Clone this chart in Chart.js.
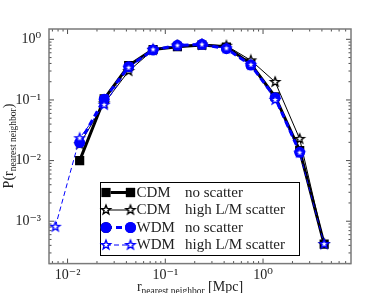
<!DOCTYPE html>
<html>
<head>
<meta charset="utf-8">
<script src="https://cdn.jsdelivr.net/npm/chart.js@4.4.1/dist/chart.umd.min.js"></script>
<style>
  html, body { margin: 0; padding: 0; background: #fff; }
</style>
</head>
<body>
<canvas id="c" width="390" height="293"></canvas>
<script>
// bin centres [Mpc]
const rBins = [0.0075, 0.0133, 0.0237, 0.0422, 0.075, 0.133, 0.237, 0.422, 0.75, 1.33, 2.37, 4.22];
// P(r_nearest neighbor)
const cdmNoScatter   = [null, 0.010, 0.104, 0.367, 0.68, 0.755, 0.805, 0.746, 0.392, 0.113, 0.0146, 0.00042];
const cdmHighScatter = [null, 0.0186, 0.088, 0.30, 0.667, 0.79, 0.82, 0.785, 0.45, 0.198, 0.0228, 0.00042];
const wdmNoScatter   = [null, 0.0198, 0.103, 0.354, 0.667, 0.795, 0.826, 0.70, 0.377, 0.109, 0.0137, null];
const wdmHighScatter = [0.00081, 0.0234, 0.083, 0.34, 0.68, 0.79, 0.82, 0.71, 0.38, 0.10, 0.0135, 0.00042];

const xRange = [0.00646, 7.94];
const yRange = [0.0002, 1.48];

const legendRows = [
  ["CDM", "no scatter"],
  ["CDM", "high L/M scatter"],
  ["WDM", "no scatter"],
  ["WDM", "high L/M scatter"]
];

const BLUE = "#0000ff";
const SERIF = "'Liberation Serif', 'DejaVu Serif', serif";

function toPoints(ys) {
  return rBins.map((x, i) => ({ x, y: ys[i] })).filter(p => p.y !== null);
}

// hollow 5-point star marker
function starMarker(color, r) {
  const size = Math.ceil(r * 2 + 4);
  const cv = document.createElement("canvas");
  cv.width = size; cv.height = size;
  const g = cv.getContext("2d");
  const c = size / 2;
  g.beginPath();
  for (let i = 0; i < 10; i++) {
    const rad = i % 2 === 0 ? r : r * 0.42;
    const a = -Math.PI / 2 + i * Math.PI / 5;
    const px = c + rad * Math.cos(a), py = c + rad * Math.sin(a);
    i === 0 ? g.moveTo(px, py) : g.lineTo(px, py);
  }
  g.closePath();
  g.fillStyle = "#fff";
  g.fill();
  g.lineWidth = 1.4;
  g.strokeStyle = color;
  g.stroke();
  return cv;
}
const blackStar = starMarker("#000", 4.8);
const blueStar = starMarker(BLUE, 4.8);

const sup = { "-": "\u207b", "0": "\u2070", "1": "\u00b9", "2": "\u00b2", "3": "\u00b3" };
function decadeLabel(value) {
  const l = Math.log10(value);
  const k = Math.round(l);
  if (Math.abs(l - k) > 1e-6) return "";
  return "10" + String(k).split("").map(ch => sup[ch]).join("");
}

const datasets = [
  {
    label: "CDM no scatter",
    data: toPoints(cdmNoScatter),
    borderColor: "#000", backgroundColor: "#000",
    borderWidth: 3, pointStyle: "rect", pointRadius: 6.5,
    pointBorderWidth: 0, order: 4
  },
  {
    label: "CDM high L/M scatter",
    data: toPoints(cdmHighScatter),
    borderColor: "#000", backgroundColor: "#000",
    borderWidth: 1, pointStyle: blackStar, order: 3
  },
  {
    label: "WDM no scatter",
    data: toPoints(wdmNoScatter),
    borderColor: BLUE, backgroundColor: BLUE,
    borderWidth: 3, borderDash: [6, 4], pointStyle: "circle", pointRadius: 5.5,
    pointBorderWidth: 0, order: 2
  },
  {
    label: "WDM high L/M scatter",
    data: toPoints(wdmHighScatter),
    borderColor: BLUE, backgroundColor: BLUE,
    borderWidth: 1, borderDash: [5, 3], pointStyle: blueStar, order: 1
  }
];

function drawMixed(ctx, parts, x, y, align) {
  // parts: [text, size, dy]
  let total = 0;
  parts.forEach(p => { ctx.font = p[1] + "px " + SERIF; total += ctx.measureText(p[0]).width; });
  let cx = align === "center" ? x - total / 2 : x;
  parts.forEach(p => {
    ctx.font = p[1] + "px " + SERIF;
    ctx.textAlign = "left";
    ctx.fillText(p[0], cx, y + p[2]);
    cx += ctx.measureText(p[0]).width;
  });
}

const decor = {
  id: "decor",
  afterDraw(chart) {
    const ctx = chart.ctx;
    const a = chart.chartArea;
    const xs = chart.scales.x, ys = chart.scales.y;
    ctx.save();

    // inward ticks on all four sides
    ctx.strokeStyle = "#222";
    ctx.lineWidth = 0.8;
    const drawTicks = (scale, lo, hi, horiz) => {
      for (let k = Math.floor(Math.log10(lo)); k <= Math.ceil(Math.log10(hi)); k++) {
        for (let m = 1; m <= 9; m++) {
          const v = m * Math.pow(10, k);
          if (v < lo || v > hi) continue;
          const p = scale.getPixelForValue(v);
          const len = m === 1 ? 5 : 2.5;
          ctx.beginPath();
          if (horiz) {
            ctx.moveTo(p, a.bottom); ctx.lineTo(p, a.bottom - len);
            ctx.moveTo(p, a.top); ctx.lineTo(p, a.top + len);
          } else {
            ctx.moveTo(a.left, p); ctx.lineTo(a.left + len, p);
            ctx.moveTo(a.right, p); ctx.lineTo(a.right - len, p);
          }
          ctx.stroke();
        }
      }
    };
    drawTicks(xs, xRange[0], xRange[1], true);
    drawTicks(ys, yRange[0], yRange[1], false);

    // frame
    ctx.strokeStyle = "#7a7a7a";
    ctx.lineWidth = 1.5;
    ctx.strokeRect(a.left, a.top, a.right - a.left, a.bottom - a.top);

    // axis titles
    ctx.fillStyle = "#222";
    ctx.textBaseline = "alphabetic";
    drawMixed(ctx, [["r", 14, 0], ["nearest neighbor", 9.5, 3], [" [Mpc]", 14, 0]], 190, 291, "center");
    ctx.save();
    ctx.translate(13, 146);
    ctx.rotate(-Math.PI / 2);
    drawMixed(ctx, [["P(r", 14, 0], ["nearest neighbor", 9.5, 3], [")", 14, 0]], 0, 0, "center");
    ctx.restore();

    // legend
    const bx = 100.5, by = 182.5, bw = 199, bh = 73;
    ctx.fillStyle = "#fff";
    ctx.fillRect(bx, by, bw, bh);
    ctx.strokeStyle = "#000";
    ctx.lineWidth = 1;
    ctx.strokeRect(bx, by, bw, bh);
    const rowY = [192.5, 210, 227.5, 245];
    datasets.forEach((ds, i) => {
      const y = rowY[i];
      ctx.save();
      ctx.strokeStyle = ds.borderColor;
      ctx.lineWidth = ds.borderWidth;
      ctx.setLineDash(ds.borderDash || []);
      ctx.beginPath();
      ctx.moveTo(106, y); ctx.lineTo(130.5, y);
      ctx.stroke();
      ctx.setLineDash([]);
      [106, 130.5].forEach(px => {
        Chart.helpers.drawPoint(ctx, {
          pointStyle: ds.pointStyle,
          radius: ds.pointRadius || 3,
          borderWidth: ds.pointBorderWidth || 0,
          rotation: 0
        }, px, y);
        if (typeof ds.pointStyle === "string") { ctx.fillStyle = ds.backgroundColor; ctx.fill(); }
      });
      ctx.restore();
      ctx.fillStyle = "#222";
      ctx.font = "15px " + SERIF;
      ctx.textAlign = "left";
      ctx.textBaseline = "middle";
      ctx.fillText(legendRows[i][0], 136.5, y + 0.5);
      ctx.fillText(legendRows[i][1], 185, y + 0.5);
    });
    ctx.restore();
  }
};

new Chart(document.getElementById("c"), {
  type: "line",
  data: { datasets },
  options: {
    responsive: false,
    animation: false,
    layout: { padding: { top: 29, right: 39, left: 0, bottom: 0 } },
    plugins: { legend: { display: false }, tooltip: { enabled: false } },
    elements: { line: { tension: 0 } },
    scales: {
      x: {
        type: "logarithmic",
        min: xRange[0], max: xRange[1],
        grid: { display: false, drawTicks: false, tickLength: 0 }, border: { display: false },
        afterFit(scale) { scale.height = 29.4; },
        ticks: {
          autoSkip: false, maxRotation: 0, padding: 3,
          color: "#222", font: { family: SERIF, size: 14 },
          callback: v => decadeLabel(v)
        }
      },
      y: {
        type: "logarithmic",
        min: yRange[0], max: yRange[1],
        grid: { display: false, drawTicks: false, tickLength: 0 }, border: { display: false },
        afterFit(scale) { scale.width = 49; },
        ticks: {
          autoSkip: false, padding: 8,
          color: "#222", font: { family: SERIF, size: 14 },
          callback: v => decadeLabel(v)
        }
      }
    }
  },
  plugins: [decor]
});
</script>
</body>
</html>
